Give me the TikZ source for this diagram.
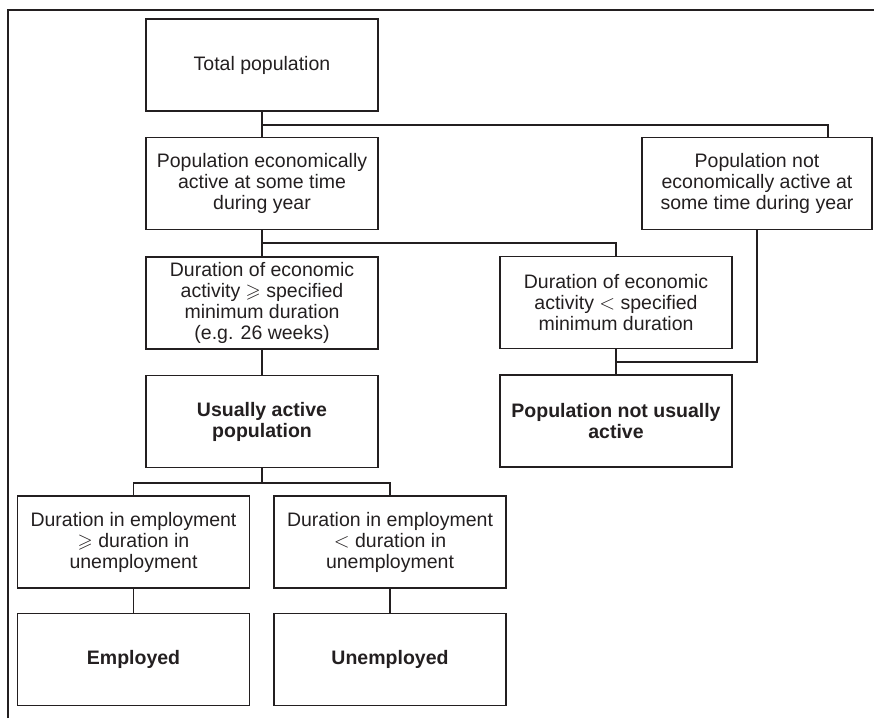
\documentclass[tikz,border=0pt]{standalone}
\usepackage{amssymb}
\usepackage{fontspec}
\setmainfont{Liberation Sans}
\definecolor{ink}{HTML}{231F20}
\begin{document}
\begin{tikzpicture}[x=1pt, y=-1pt, color=ink,
  box/.style={draw, line width=1.6pt, minimum width=232pt, minimum height=92pt,
    align=center, inner sep=0pt, font=\fontsize{19.5}{21}\selectfont},
  boldbox/.style={box, font=\fontsize{19.5}{21}\selectfont\bfseries},
  link/.style={line width=1.2pt},
  frame/.style={line width=2.4pt}]
\useasboundingbox (0,0) rectangle (874,718);
\draw[frame] (8,718) -- (8,10) -- (874,10);

\node[box] (total) at (262,65) {Total population};
\node[box] (active) at (262,183.5) {Population economically\\active at some time\\during year};
\node[box, minimum width=230pt] (inactive) at (757,183.5) {Population not\\economically active at\\some time during year};
\node[box] (durge) at (262,303) {Duration of economic\\activity $\geqslant$ specified\\minimum duration\\(e.g. 26 weeks)};
\node[box] (durlt) at (616,302.5) {Duration of economic\\activity $<$ specified\\minimum duration};
\node[boldbox] (usual) at (262,421.5) {Usually active\\population};
\node[boldbox] (notusual) at (616,421) {Population not usually\\active};
\node[box] (empge) at (133.5,542) {Duration in employment\\$\geqslant$ duration in\\unemployment};
\node[box] (emplt) at (390,542) {Duration in employment\\$<$ duration in\\unemployment};
\node[boldbox] (employed) at (133.5,659.5) {Employed};
\node[boldbox] (unemployed) at (390,659.5) {Unemployed};

\coordinate (j1) at (262,125);
\coordinate (t1) at (828,125);
\coordinate (j2) at (262,243);
\coordinate (j3) at (616,362);
\coordinate (j4) at (262,483);
\draw[link] (total) -- (active);
\draw[link] (j1) -- (t1) -- (t1 |- inactive.north);
\draw[link] (active) -- (durge);
\draw[link] (j2) -| (durlt.north);
\draw[link] (inactive.south) |- (j3);
\draw[link] (durlt) -- (notusual);
\draw[link] (durge) -- (usual);
\draw[link] (usual) -- (j4);
\draw[link] (empge.north) |- (j4) -| (emplt.north);
\draw[link] (empge) -- (employed);
\draw[link] (emplt) -- (unemployed);

\end{tikzpicture}
\end{document}
